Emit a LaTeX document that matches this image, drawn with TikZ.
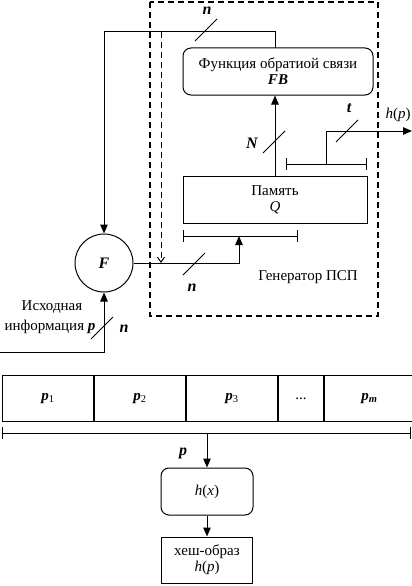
\documentclass[tikz,border=0pt]{standalone}
\usepackage{fontspec}
\setmainfont{Liberation Serif}
\usetikzlibrary{arrows.meta,calc}
\begin{document}
\begin{tikzpicture}[x=1pt,y=-1pt,
  line width=1pt,
  every node/.style={font=\fontsize{15}{17}\selectfont},
  arr/.style={-{Triangle[length=9pt,width=7.5pt]}},
  barb/.style={-{Straight Barb[length=5pt,width=7pt]}},
  rblk/.style={draw,rounded corners=8pt,align=center,inner sep=0pt},
  var/.style={font=\fontsize{16}{18}\selectfont\bfseries\itshape},
  slashmark/.pic={\draw (-11,11) -- (11,-11);},
  cell/.style={draw,minimum height=46pt,inner sep=0pt}
]
\useasboundingbox (0,0) rectangle (412,586);

% dashed generator box
\draw[dashed,line width=1.2pt,dash pattern=on 6pt off 4pt] (150,2) rectangle (378,316);

% main nodes
\node[draw,circle,minimum size=58pt,inner sep=0pt,var] (F) at (104,263) {F};
\node[rblk,minimum width=190pt,minimum height=47pt] (FB) at (278,71.5)
  {Функция обратиой связи\\[-1pt]{\bfseries\itshape FB}};
\node[draw,minimum width=184pt,minimum height=47pt,align=center,inner sep=0pt] (Mem) at (275,199.5)
  {Память\\[-1pt]\textit{Q}};

% feedback from FB to F
\coordinate (tl) at (104,32);
\coordinate (ftop) at (275,48);
\draw[arr] (ftop) |- (tl) -- (F.north);
% inner dashed line
\coordinate (td) at (161,32);
\draw[barb,dashed,dash pattern=on 6pt off 4pt] (td) -- (td |- F.east);

% bracket under memory
\coordinate (bl) at (183,236);
\coordinate (br) at (297,236);
\coordinate (bm) at (239,236);
\draw ($(bl)+(0,-6)$) -- ($(bl)+(0,6)$) (bl) -- (br) ($(br)+(0,-6)$) -- ($(br)+(0,6)$);
\draw[arr] (F.east) -| (bm);

% memory to FB
\draw[arr] (Mem.north) -- (Mem.north |- FB.south);

% bracket above memory, output
\coordinate (ul) at (286,164);
\coordinate (ur) at (366,164);
\coordinate (um) at (326,164);
\coordinate (hp) at (412,131);
\draw ($(ul)+(0,-6)$) -- ($(ul)+(0,6)$) (ul) -- (ur) ($(ur)+(0,-6)$) -- ($(ur)+(0,6)$);
\draw[arr] (um) |- (hp);

% input
\coordinate (in) at (0,352);
\draw[arr] (in) -| (F.south);

% slashes
\pic at (206,30) {slashmark};
\pic at (274,142) {slashmark};
\pic at (347,131) {slashmark};
\pic at (194,264) {slashmark};
\pic at (102,328) {slashmark};

% labels
\node[var] (ln1) at (207,11) {n};
\node[var] (lN) at (252,143) {N};
\node[var] (lt) at (349,108) {t};
\node (lhp) at (398,115) {\textit{h}(\textit{p})};
\node[var] (ln2) at (192,288) {n};
\node[var] (ln3) at (124,329) {n};
\node (gen) at (308,277) {Генератор ПСП};
\node (isx) at (52,307) {Исходная};
\node (inf) at (50,327) {информация {\bfseries\itshape p}};

% bottom row of cells
\node[cell,minimum width=91pt,anchor=north west] (c1) at (2,375) {{\bfseries\itshape p}\textsubscript{1}};
\node[cell,minimum width=91pt,anchor=north west] (c2) at (c1.north east) {{\bfseries\itshape p}\textsubscript{2}};
\node[cell,minimum width=91pt,anchor=north west] (c3) at (c2.north east) {{\bfseries\itshape p}\textsubscript{3}};
\node[cell,minimum width=45pt,anchor=north west] (c4) at (c3.north east) {...};
\node[cell,minimum width=90pt,anchor=north west] (c5) at (c4.north east) {{\bfseries\itshape p}\textsubscript{\bfseries\itshape m}};

% bracket under cells
\coordinate (al) at (2,433);
\coordinate (ar) at (410,433);
\coordinate (am) at (207,433);
\draw ($(al)+(0,-6)$) -- ($(al)+(0,6)$) (al) -- (ar) ($(ar)+(0,-6)$) -- ($(ar)+(0,6)$);

\node[rblk,minimum width=92pt,minimum height=47pt] (hx) at (207,491.5) {\textit{h}(\textit{x})};
\node[draw,minimum width=91pt,minimum height=46pt,align=center,inner sep=0pt] (hash) at (207,560)
  {хеш-образ\\[-1pt]\textit{h}(\textit{p})};
\draw[arr] (am) -- (hx.north);
\draw[arr] (hx.south) -- (hash.north);
\node[var] (lp) at (183,453) {p};
\end{tikzpicture}
\end{document}
